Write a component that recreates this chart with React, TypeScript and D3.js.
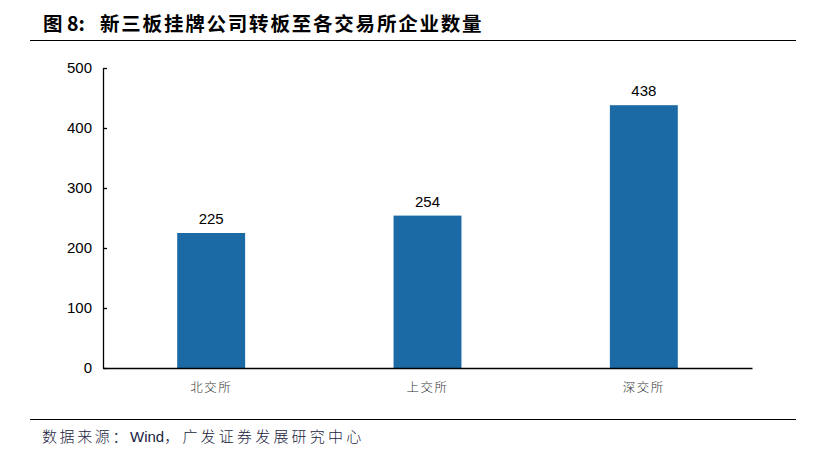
import * as d3 from "d3";
import { useEffect, useRef } from "react";

const categories = ["北交所", "上交所", "深交所"];
const values = [225, 254, 438];
const yTicks = [0, 100, 200, 300, 400, 500];

const figLabel = "图 8:";
const title = "新三板挂牌公司转板至各交易所企业数量";
const sourceParts = ["数据来源：", "Wind", "，广发证券发展研究中心"];

const App: React.FC = () => {
  const ref = useRef<SVGSVGElement | null>(null);

  useEffect(() => {
    const svg = d3.select(ref.current);
    svg.selectAll("*").remove();

    const width = 825,
      height = 461,
      margin = { top: 68, right: 73, bottom: 93, left: 103 };
    const chartWidth = width - margin.left - margin.right;
    const chartHeight = height - margin.top - margin.bottom;

    // title and rules
    svg
      .append("text")
      .attr("x", 43)
      .attr("y", 31)
      .attr("font-family", "'Noto Sans CJK SC', sans-serif")
      .attr("font-size", 19.5)
      .attr("font-weight", "bold")
      .attr("fill", "#000")
      .text(figLabel);

    svg
      .append("text")
      .attr("x", 100)
      .attr("y", 31)
      .attr("font-family", "'Noto Sans CJK SC', sans-serif")
      .attr("font-size", 19.5)
      .attr("font-weight", "bold")
      .attr("letter-spacing", 1.8)
      .attr("fill", "#000")
      .text(title);

    svg
      .append("line")
      .attr("x1", 30)
      .attr("x2", 796)
      .attr("y1", 40.5)
      .attr("y2", 40.5)
      .attr("stroke", "#000")
      .attr("stroke-width", 1);

    svg
      .append("line")
      .attr("x1", 30)
      .attr("x2", 796)
      .attr("y1", 419.5)
      .attr("y2", 419.5)
      .attr("stroke", "#000")
      .attr("stroke-width", 1);

    const src = svg
      .append("text")
      .attr("x", 42)
      .attr("y", 442)
      .attr("font-family", "'Noto Sans CJK SC', sans-serif")
      .attr("font-size", 15)
      .attr("font-weight", 300)
      .attr("fill", "#1a2340");
    src.append("tspan").attr("letter-spacing", 2.6).text(sourceParts[0]);
    src
      .append("tspan")
      .attr("font-family", "Arial, 'Liberation Sans', sans-serif")
      .attr("font-weight", 400)
      .text(sourceParts[1]);
    src.append("tspan").attr("letter-spacing", 3.2).text(sourceParts[2]);

    const xScale = d3
      .scaleBand()
      .domain(categories)
      .range([0, chartWidth])
      .paddingInner(0.686)
      .paddingOuter(0.343);

    const yScale = d3.scaleLinear().domain([0, 500]).range([chartHeight, 0]);

    const g = svg
      .append("g")
      .attr("transform", `translate(${margin.left}, ${margin.top})`);

    g.selectAll("rect")
      .data(values)
      .join("rect")
      .attr("x", (_, i) => xScale(categories[i]) ?? 0)
      .attr("y", (d) => yScale(d))
      .attr("width", xScale.bandwidth())
      .attr("height", (d) => chartHeight - yScale(d))
      .attr("fill", "#1B6AA5");

    g.selectAll(".val")
      .data(values)
      .join("text")
      .attr("class", "val")
      .attr("x", (_, i) => (xScale(categories[i]) ?? 0) + xScale.bandwidth() / 2)
      .attr("y", (d) => yScale(d) - 9)
      .attr("text-anchor", "middle")
      .attr("font-family", "Arial, 'Liberation Sans', sans-serif")
      .attr("font-size", 15)
      .attr("fill", "#000")
      .text((d) => d);

    const yAxis = g
      .append("g")
      .call(d3.axisLeft(yScale).tickValues(yTicks).tickSizeInner(-4).tickSizeOuter(0).tickPadding(11));
    yAxis.select(".domain").attr("stroke", "#000").attr("stroke-width", 1.3);
    yAxis.selectAll(".tick line").attr("stroke", "#000").attr("stroke-width", 1.3);
    yAxis
      .selectAll(".tick text")
      .attr("font-family", "Arial, 'Liberation Sans', sans-serif")
      .attr("font-size", 15)
      .attr("fill", "#000");

    const xAxis = g
      .append("g")
      .attr("transform", `translate(0, ${chartHeight})`)
      .call(d3.axisBottom(xScale).tickSize(0).tickPadding(15));
    xAxis.select(".domain").attr("stroke", "#000").attr("stroke-width", 1.3);
    xAxis
      .selectAll(".tick text")
      .attr("font-family", "'Noto Sans CJK SC', sans-serif")
      .attr("font-weight", 300)
      .attr("font-size", 12.5)
      .attr("letter-spacing", 1.5)
      .attr("fill", "#333");
  }, []);

  return (
    <svg
      ref={ref}
      width={825}
      height={461}
      style={{ position: "absolute", left: 0, top: 0, background: "#fff" }}
    ></svg>
  );
};

export default App;
